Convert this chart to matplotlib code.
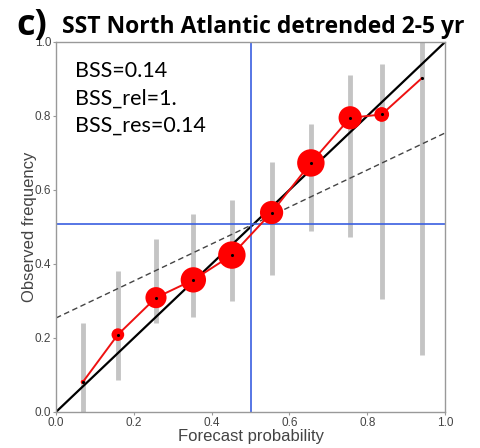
import numpy as np
import matplotlib.pyplot as plt

# reliability diagram values
fc_prob = [0.069, 0.159, 0.257, 0.353, 0.452, 0.554, 0.655, 0.756, 0.837, 0.940]
obs_freq = [0.081, 0.209, 0.309, 0.357, 0.424, 0.539, 0.673, 0.795, 0.804, 0.902]
ci_low = [0.0, 0.086, 0.241, 0.258, 0.301, 0.371, 0.489, 0.474, 0.305, 0.154]
ci_high = [0.241, 0.381, 0.468, 0.534, 0.573, 0.676, 0.778, 0.911, 0.941, 1.0]
marker_r = [2, 6, 10, 12, 13, 11, 13, 11, 7, 1]   # marker radius ~ sample count
clim = 0.508
scores = ["BSS=0.14", "BSS_rel=1.", "BSS_res=0.14"]

fig = plt.figure(figsize=(4.81, 4.48), dpi=100)
ax = fig.add_axes([0.1164, 0.0804, 0.809, 0.826])

for x, lo, hi in zip(fc_prob, ci_low, ci_high):
    ax.plot([x, x], [lo, hi], color='#c4c4c4', lw=3.5, solid_capstyle='butt', zorder=1)

ax.plot([0, 1], [0, 1], color='black', lw=1.6, zorder=2)
xx = np.array([0, 1])
ax.plot(xx, (xx + clim) / 2, color='#444444', lw=1, ls='--', dashes=(4, 2.5), zorder=2)
ax.axhline(clim, color='#3a5fe0', lw=1.2, zorder=2)
ax.axvline(0.5, color='#3a5fe0', lw=1.2, zorder=2)

ax.plot(fc_prob, obs_freq, color='#ee1111', lw=1.4, zorder=3)
sizes = [(2 * r * 0.76) ** 2 for r in marker_r]
ax.scatter(fc_prob, obs_freq, s=sizes, color='#ff0000', zorder=4, linewidths=0)
ax.scatter(fc_prob, obs_freq, s=5, color='black', zorder=5, linewidths=0)

ax.set_xlim(0, 1)
ax.set_ylim(0, 1)
ticks = [0, 0.2, 0.4, 0.6, 0.8, 1.0]
labels = ['0.0', '0.2', '0.4', '0.6', '0.8', '1.0']
ax.set_xticks(ticks)
ax.set_yticks(ticks)
ax.set_xticklabels(labels, family='Liberation Sans')
ax.set_yticklabels(labels, family='Liberation Sans')
ax.tick_params(length=2.5, width=0.8, color='#999999', labelcolor='#444444',
               labelsize=8.5, pad=1)
for s in ax.spines.values():
    s.set_color('#999999')
    s.set_linewidth(1)

ax.set_xlabel('Forecast probability', fontsize=12, color='#444444', labelpad=0,
              family='Liberation Sans')
ax.set_ylabel('Observed frequency', fontsize=12, color='#444444', labelpad=-2,
              family='Liberation Sans')

ax.text(0.049, 0.948, "\n".join(scores), transform=ax.transAxes, fontsize=15.5,
        family='Lato', va='top', ha='left', linespacing=1.45)

fig.text(0.035, 0.922, 'c)', fontsize=26, fontweight='bold', family='Open Sans', va='baseline')
fig.text(0.129, 0.926, 'SST North Atlantic detrended 2-5 yr', fontsize=16.5,
         fontweight='bold', family='Open Sans', va='baseline')

fig.savefig('out.png', dpi=100)
